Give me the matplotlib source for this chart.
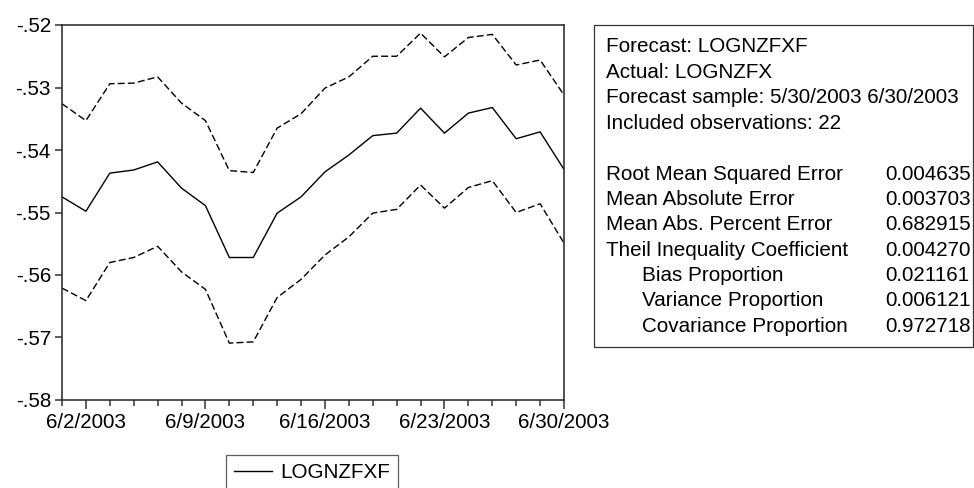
import matplotlib.pyplot as plt
import matplotlib.ticker as mticker
from matplotlib.patches import Rectangle

plt.rcParams["font.family"] = ["Liberation Sans", "DejaVu Sans"]

# 22 business days, 5/30/2003 .. 6/30/2003
obs = list(range(22))
forecast = [-0.5475, -0.5498, -0.5437, -0.5432, -0.5419, -0.5461, -0.5489, -0.5572,
            -0.5572, -0.5501, -0.5475, -0.5435, -0.5408, -0.5377, -0.5373, -0.5333,
            -0.5373, -0.5341, -0.5332, -0.5382, -0.5371, -0.5431]
upper = [-0.5326, -0.5353, -0.5294, -0.5293, -0.5283, -0.5325, -0.5353, -0.5433,
         -0.5436, -0.5365, -0.5342, -0.5301, -0.5283, -0.5250, -0.5250, -0.5213,
         -0.5251, -0.5220, -0.5215, -0.5264, -0.5256, -0.5312]
lower = [-0.5621, -0.5641, -0.5580, -0.5572, -0.5554, -0.5595, -0.5623, -0.5709,
         -0.5707, -0.5636, -0.5607, -0.5568, -0.5539, -0.5501, -0.5495, -0.5456,
         -0.5493, -0.5460, -0.5449, -0.5500, -0.5486, -0.5549]

xtick_pos = [1, 6, 11, 16, 21]
xtick_labels = ["6/2/2003", "6/9/2003", "6/16/2003", "6/23/2003", "6/30/2003"]
ytick_vals = [-0.58, -0.57, -0.56, -0.55, -0.54, -0.53, -0.52]

header_lines = ["Forecast: LOGNZFXF", "Actual: LOGNZFX",
                "Forecast sample: 5/30/2003 6/30/2003", "Included observations: 22"]
stat_names = ["Root Mean Squared Error", "Mean Absolute Error",
              "Mean Abs. Percent Error", "Theil Inequality Coefficient",
              "Bias Proportion", "Variance Proportion", "Covariance Proportion"]
stat_values = ["0.004635", "0.003703", "0.682915", "0.004270",
               "0.021161", "0.006121", "0.972718"]
stat_indent = [False, False, False, False, True, True, True]

W, H = 974, 488
FS = 14.9
frame_col = "#333333"

fig = plt.figure(figsize=(W / 100, H / 100), dpi=100)
ax = fig.add_axes([62 / W, 1 - 400 / H, 502 / W, 375 / H])

(solid,) = ax.plot(obs, forecast, color="black", lw=1.0, label="LOGNZFXF")
ax.plot(obs, upper, color="black", lw=1.0, dashes=(5, 2.3))
ax.plot(obs, lower, color="black", lw=1.0, dashes=(5, 2.3))

ax.set_xlim(0, 21)
ax.set_ylim(-0.58, -0.52)
ax.set_xticks(xtick_pos)
ax.set_xticklabels(xtick_labels)
ax.set_xticks(obs, minor=True)
ax.set_yticks(ytick_vals)
ax.yaxis.set_major_formatter(mticker.FuncFormatter(lambda v, p: ("%.2f" % v).replace("0.", ".")))
ax.tick_params(axis="x", which="major", length=6.5, width=1.1, color=frame_col,
               labelsize=FS, pad=2.5)
ax.tick_params(axis="x", which="minor", length=4, width=1.1, color=frame_col)
ax.tick_params(axis="y", which="major", length=5, width=1.1, color=frame_col,
               labelsize=FS, pad=3)
for s in ax.spines.values():
    s.set_color(frame_col)
    s.set_linewidth(1.2)

# statistics box
fig.add_artist(Rectangle((594 / W, 1 - 347 / H), (973 - 594) / W, (347 - 25) / H,
                         transform=fig.transFigure, fill=False,
                         edgecolor=frame_col, lw=0.9))
step = 25.4
y0 = 47
for k, line in enumerate(header_lines):
    fig.text(606 / W, 1 - (y0 + step * k) / H, line, fontsize=FS, va="center")
for k, (name, val, ind) in enumerate(zip(stat_names, stat_values, stat_indent)):
    yy = 1 - (y0 + step * (k + 5)) / H
    fig.text((642 if ind else 606) / W, yy, name, fontsize=FS, va="center")
    fig.text(885 / W, yy, val, fontsize=FS, va="center")

leg = fig.legend(handles=[solid], loc="upper left",
                 bbox_to_anchor=(226 / W, 1 - 455 / H), borderaxespad=0,
                 fontsize=FS, frameon=True, fancybox=False, edgecolor=frame_col,
                 handlelength=1.8, handletextpad=0.4, borderpad=0.4)
leg.get_frame().set_linewidth(0.9)

fig.savefig("out.png", dpi=100)
